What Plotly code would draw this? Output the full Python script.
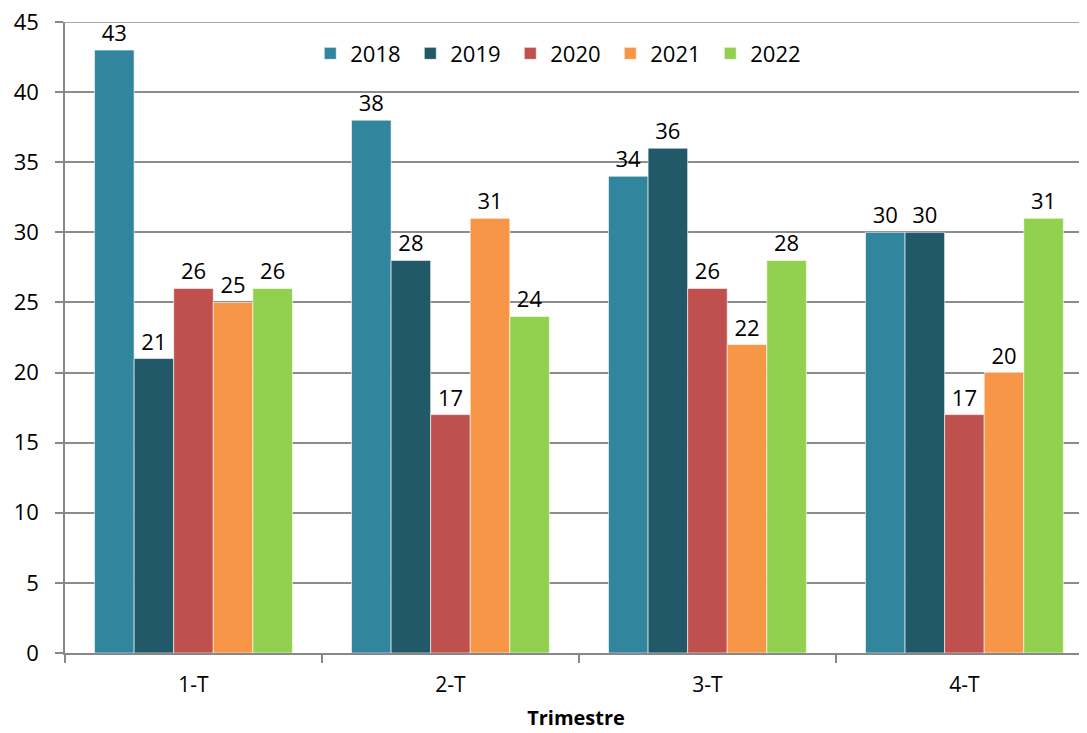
import plotly.graph_objects as go

categories = ["1-T", "2-T", "3-T", "4-T"]
years = ["2018", "2019", "2020", "2021", "2022"]
v2018 = [43, 38, 34, 30]
v2019 = [21, 28, 36, 30]
v2020 = [26, 17, 26, 17]
v2021 = [25, 31, 22, 20]
v2022 = [26, 24, 28, 31]
series = [v2018, v2019, v2020, v2021, v2022]
colors = ["#31859C", "#215968", "#C0504D", "#F79646", "#92D050"]
y_ticks = [0, 5, 10, 15, 20, 25, 30, 35, 40, 45]

FONT = "Open Sans"

fig = go.Figure()
for name, vals, col in zip(years, series, colors):
    fig.add_trace(go.Bar(
        x=categories, y=vals, name=name,
        marker=dict(color=col, line=dict(color="rgba(255,255,255,0.6)", width=1)),
        text=[str(v) for v in vals], textposition="outside",
        textfont=dict(size=22, color="black", family=FONT),
        cliponaxis=False,
    ))

# top gridline (plotly omits the gridline on the plot edge)
fig.add_shape(type="line", xref="paper", yref="y", x0=0, x1=1,
              y0=y_ticks[-1], y1=y_ticks[-1], layer="below",
              line=dict(color="#8C8C8C", width=1.5))

# page body has an 8px margin, so the figure is offset by 8px
fig.update_layout(
    width=1079, height=725,
    margin=dict(l=57, r=0, t=14, b=80, autoexpand=False),
    barmode="group", bargap=0.23, bargroupgap=0,
    plot_bgcolor="white", paper_bgcolor="white",
    font=dict(family=FONT, size=22, color="black"),
    legend=dict(orientation="h", x=0.24, y=0.95, xanchor="left", yanchor="middle",
                font=dict(size=22, family=FONT), itemwidth=30, entrywidth=55,
                bgcolor="rgba(0,0,0,0)"),
    xaxis=dict(range=[-0.5, 3.477], showline=True, linecolor="#888888", linewidth=1.5,
               ticks="outside", tickson="boundaries", ticklen=8, tickcolor="#888888",
               tickwidth=1.5, tickfont=dict(size=21), automargin=False,
               ticklabelstandoff=12,
               title=dict(text="<b>Trimestre</b>", font=dict(size=20), standoff=14)),
    yaxis=dict(range=[0, 45.0001], tickvals=y_ticks, showgrid=True, gridcolor="#8C8C8C",
               gridwidth=1.5, showline=True, linecolor="#888888", linewidth=1.5,
               ticks="outside", ticklen=8, tickcolor="#888888", tickwidth=1.5,
               tickfont=dict(size=22), zeroline=False, automargin=False,
               ticklabeloverflow="allow", ticklabelstandoff=12),
)

fig.write_html("out.html")
